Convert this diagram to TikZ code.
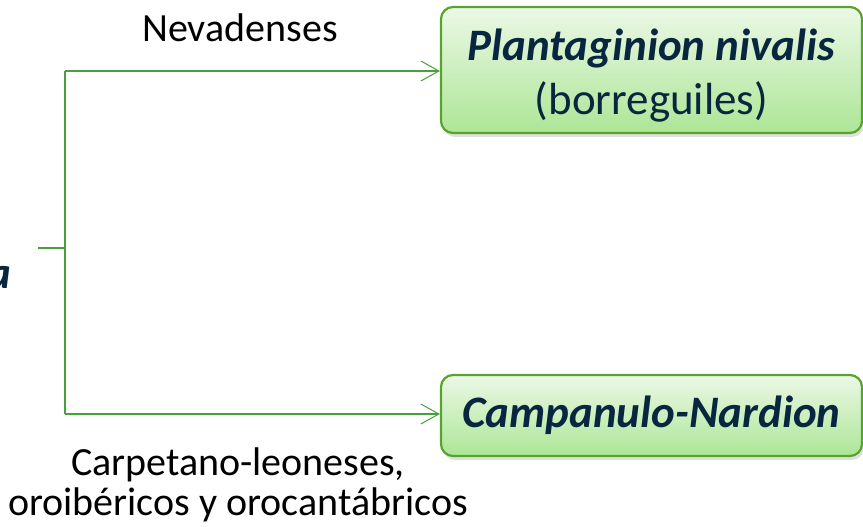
\documentclass[tikz,border=0pt]{standalone}
\usepackage{fontspec}
\setmainfont{Carlito}
\usetikzlibrary{arrows.meta,shadows}

\definecolor{boxline}{RGB}{86,164,42}
\definecolor{boxtop}{RGB}{236,248,230}
\definecolor{boxbottom}{RGB}{172,230,150}
\definecolor{linkgreen}{RGB}{70,160,60}
\definecolor{navy}{RGB}{8,38,64}

\tikzset{
  alliance/.style={draw=boxline, line width=2.2pt, rounded corners=12pt,
    top color=boxtop, bottom color=boxbottom,
    drop shadow={shadow xshift=2pt, shadow yshift=-4pt, opacity=0.25},
    text=navy, align=center, font=\fontsize{45}{54}\selectfont},
  link/.style={draw=linkgreen, line width=1.1pt},
  linkarrow/.style={link, -{Straight Barb[length=18pt, width=20pt, line width=1pt]}},
  region/.style={font=\fontsize{40}{40}\selectfont, align=center}
}

\begin{document}
\begin{tikzpicture}[x=1pt, y=-1pt]
  \useasboundingbox (0,0) rectangle (863,527);
  \clip (0,0) rectangle (863,527);

  % boxes
  \node[alliance, minimum width=421pt, minimum height=126pt,
    text height=100pt, text depth=12pt] (plantaginion)
    at (651.5,70) {\textbf{\textit{Plantaginion nivalis}}\\(borreguiles)};
  \node[alliance, minimum width=421pt, minimum height=81pt] (campanulo)
    at (651.5,415.5) {\textbf{\textit{Campanulo-Nardion}}};

  % truncated parent
  \node[anchor=east, text=navy, font=\fontsize{45}{49}\selectfont, inner sep=0pt]
    (root) at (11,278) {\textbf{\textit{a}}};
  \coordinate (rootout) at (38,248);
  \coordinate (split) at (65,248);
  \coordinate (splittop) at (65,71);
  \coordinate (splitbottom) at (65,414);

  % connectors
  \draw[link] (rootout) -- (split);
  \draw[link] (splittop) -- (splitbottom);
  \draw[linkarrow] (splittop) -- (plantaginion.west |- splittop);
  \draw[linkarrow] (splitbottom) -- (campanulo.west |- splitbottom);

  % labels
  \node[region] (nevadenses) at (240,28) {Nevadenses};
  \node[region] (carpetano) at (238,485)
    {Carpetano-leoneses,\\oroib\'ericos y orocant\'abricos};
\end{tikzpicture}
\end{document}
